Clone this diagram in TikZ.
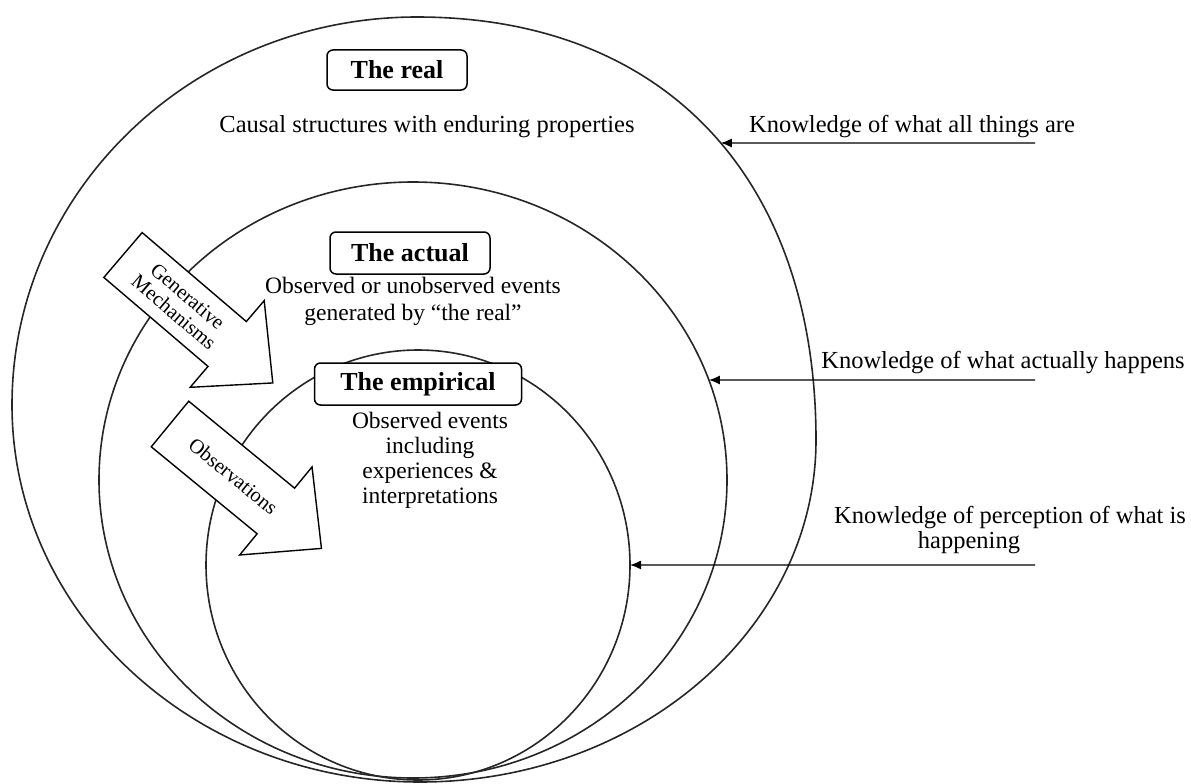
\documentclass[tikz,border=0pt]{standalone}
\usepackage{fontspec}
\setmainfont{Liberation Serif}
\usetikzlibrary{arrows.meta,intersections}
\begin{document}
\begin{tikzpicture}[x=1pt,y=-1pt,
  ring/.style={draw=black!85, line width=1.6pt},
  title/.style={draw, rounded corners=6pt, line width=1.5pt, fill=white,
    font=\fontsize{26}{30}\selectfont\bfseries, inner sep=0pt},
  body/.style={font=\fontsize{23.5}{27}\selectfont, align=center, inner sep=0pt},
  know/.style={font=\fontsize{24.5}{27}\selectfont, inner sep=0pt},
  pointer/.style={line width=1.3pt, -{Latex[length=11pt,width=9pt]}},
  blockarrow/.style={draw, line width=1.4pt, fill=white, line join=miter},
  arrowtext/.style={font=\fontsize{20.5}{21}\selectfont, align=center, inner sep=0pt}
]
\useasboundingbox (0,0) rectangle (1191,784);

% nested levels of reality
\draw[ring, name path=outer] (417,17)
  .. controls (664.4,17) and (816,177.7) .. (816,440)
  .. controls (816,628.9) and (638.7,782) .. (420,782)
  .. controls (194.7,782) and (12,613.2) .. (12,405)
  .. controls (12,190.7) and (193.3,17) .. cycle;
\draw[ring, name path=middle] (413,480) ellipse [x radius=314pt, y radius=298pt];
\draw[ring, name path=inner]  (418,565) ellipse [x radius=212pt, y radius=215pt];

% block arrow: generative mechanisms
\begin{scope}[shift={(123,255)}, rotate=-40.5]
  \draw[blockarrow] (0,-29.5) -- (137,-29.5) -- (137,-57) -- (197,0)
    -- (137,57) -- (137,29.5) -- (0,29.5) -- cycle;
  \node[arrowtext, rotate=-40.5] (gen) at (76,0) {Generative\\Mechanisms};
\end{scope}

% block arrow: observations
\begin{scope}[shift={(170,424)}, rotate=-39.4]
  \draw[blockarrow] (0,-29.5) -- (137,-29.5) -- (137,-57) -- (196,0)
    -- (137,57) -- (137,29.5) -- (0,29.5) -- cycle;
  \node[arrowtext, rotate=-39.4] (obs) at (82,0) {Observations};
\end{scope}

% titles and descriptions
\node[title, minimum width=140pt, minimum height=40pt] (real) at (397,70) {The real};
\node[body, font=\fontsize{24.5}{27}\selectfont] (realtxt) at (427,127)
  {Causal structures with enduring properties};

\node[title, minimum width=160pt, minimum height=42pt] (actual) at (410,253) {The actual};
\node[body] (actualtxt) at (413,301) {Observed or unobserved events\\generated by “the real”};

\node[title, minimum width=207pt, minimum height=42pt] (emp) at (418,384) {The empirical};
\node[body, font=\fontsize{23.5}{25}\selectfont] (emptxt) at (430,460)
  {Observed events\\including\\experiences \&\\interpretations};

% kinds of knowledge
\node[know] (k1) at (912,127) {Knowledge of what all things are};
\node[know] (k2) at (1003,363) {Knowledge of what actually happens};
\node[know] (k3) at (1010,518) {Knowledge of perception of what is};
\node[know] (k3b) at (969,543) {happening};

\coordinate (a1s) at (1035,143);
\coordinate (a2s) at (1035,380);
\coordinate (a3s) at (1035,565);
\path[name path=h1] (a1s) -- (420,143);
\path[name path=h2] (a2s) -- (420,380);
\path[name path=h3] (a3s) -- (420,565);
\path[name intersections={of=outer and h1, by=a1e}];
\path[name intersections={of=middle and h2, by=a2e}];
\path[name intersections={of=inner and h3, by=a3e}];
\draw[pointer] (a1s) -- (a1e);
\draw[pointer] (a2s) -- (a2e);
\draw[pointer] (a3s) -- (a3e);
\end{tikzpicture}
\end{document}
